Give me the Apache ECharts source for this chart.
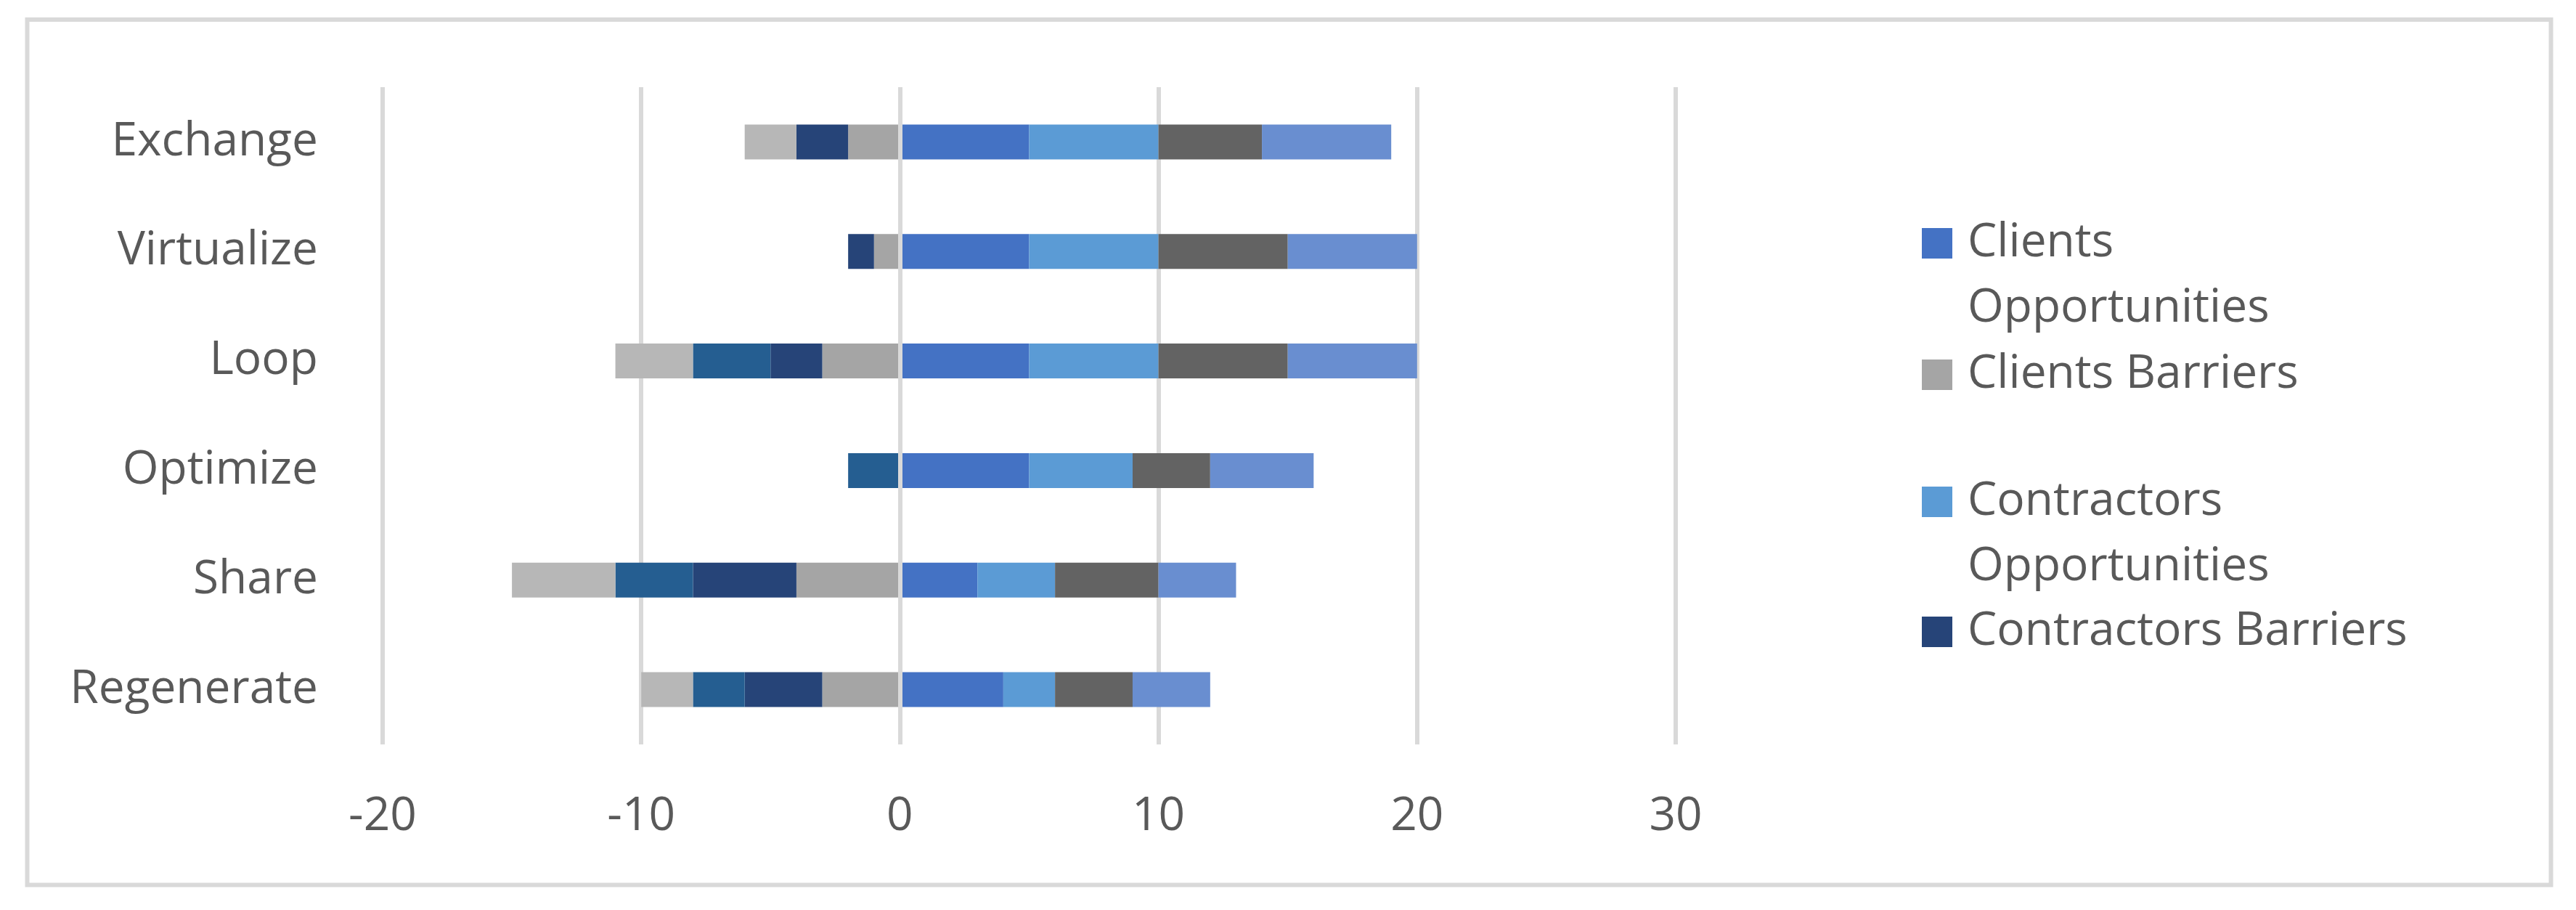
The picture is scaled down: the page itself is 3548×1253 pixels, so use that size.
<!DOCTYPE html>
<html>
<head>
<meta charset="utf-8">
<script src="https://cdn.jsdelivr.net/npm/echarts@6/dist/echarts.min.js"></script>
<style>
html,body{margin:0;padding:0;background:#fff;}
#chart{width:3548px;height:1253px;}
</style>
</head>
<body>
<div id="chart"></div>
<script>
// Categories listed bottom-to-top (as the value axis category order)
const categories = ['Regenerate', 'Share', 'Optimize', 'Loop', 'Virtualize', 'Exchange'];
const xTicks = [-20, -10, 0, 10, 20, 30];

const clientsOpportunities     = [4, 3, 5, 5, 5, 5];
const clientsBarriers          = [-3, -4, 0, -3, -1, -2];
const contractorsOpportunities = [2, 3, 4, 5, 5, 5];
const contractorsBarriers      = [-3, -4, 0, -2, -1, -2];
const series5Values            = [3, 4, 3, 5, 5, 4];
const series6Values            = [-2, -3, -2, -3, 0, 0];
const series7Values            = [3, 3, 4, 5, 5, 5];
const series8Values            = [-2, -4, 0, -3, 0, -2];

const seriesNames = ['Clients Opportunities', 'Clients Barriers', 'Contractors Opportunities', 'Contractors Barriers', 'Series 5', 'Series 6', 'Series 7', 'Series 8'];
const seriesData = [clientsOpportunities, clientsBarriers, contractorsOpportunities, contractorsBarriers, series5Values, series6Values, series7Values, series8Values];
const colors = ['#4472C4', '#A5A5A5', '#5B9BD5', '#264478', '#636363', '#255E91', '#698ED0', '#B7B7B7'];

const FONT = '"Open Sans"';
const TXT = '#595959';

const series = seriesNames.map((name, i) => {
  const s = {
    name: name,
    type: 'bar',
    stack: 'total',
    barWidth: 48,
    data: seriesData[i],
    itemStyle: { color: colors[i] },
    emphasis: { disabled: true }
  };
  if (i === 0) {
    s.markLine = {
      silent: true,
      symbol: ['none', 'none'],
      label: { show: false },
      lineStyle: { color: '#D9D9D9', width: 6, type: 'solid' },
      data: [{ xAxis: 0 }],
      animation: false
    };
  }
  return s;
});

const twoLineIcon = 'path://M0,0h42v42h-42zM0,132L42,132';
function legendFor(name, top, twoLines) {
  return {
    data: [{ name: name, icon: twoLines ? twoLineIcon : 'rect' }],
    left: 2647,
    top: top,
    padding: 0,
    orient: 'vertical',
    itemWidth: 42,
    itemHeight: twoLines ? 132 : 42,
    selectedMode: false,
    formatter: twoLines ? (n => n.replace(' ', '\n')) : (n => n),
    textStyle: { fontFamily: FONT, fontSize: 64, color: TXT, lineHeight: 90, padding: [0, 0, 0, 16] }
  };
}

const chart = echarts.init(document.getElementById('chart'), null, { renderer: 'canvas' });
chart.setOption({
  animation: false,
  backgroundColor: '#ffffff',
  textStyle: { fontFamily: FONT },
  grid: { left: 527, right: 3548 - 2308, top: 120, bottom: 1253 - 1025, containLabel: false },
  xAxis: {
    type: 'value',
    min: xTicks[0],
    max: xTicks[xTicks.length - 1],
    interval: 10,
    axisLine: { show: false },
    axisTick: { show: false },
    splitLine: { show: true, lineStyle: { color: '#D9D9D9', width: 6 } },
    axisLabel: { fontFamily: FONT, fontSize: 64, color: TXT, margin: 68 }
  },
  yAxis: {
    type: 'category',
    data: categories,
    axisLine: { show: false },
    axisTick: { show: false },
    splitLine: { show: false },
    axisLabel: { fontFamily: FONT, fontSize: 64, color: TXT, margin: 89, padding: [8, 0, 0, 0] }
  },
  legend: [
    legendFor('Clients Opportunities', 290, true),
    legendFor('Clients Barriers', 471, false),
    legendFor('Contractors Opportunities', 646, true),
    legendFor('Contractors Barriers', 825, false)
  ],
  graphic: [{
    type: 'rect',
    silent: true,
    z: -10,
    shape: { x: 37.5, y: 27, width: 3476, height: 1191.5 },
    style: { fill: 'none', stroke: '#D9D9D9', lineWidth: 6 }
  }],
  series: series
});
</script>
</body>
</html>
